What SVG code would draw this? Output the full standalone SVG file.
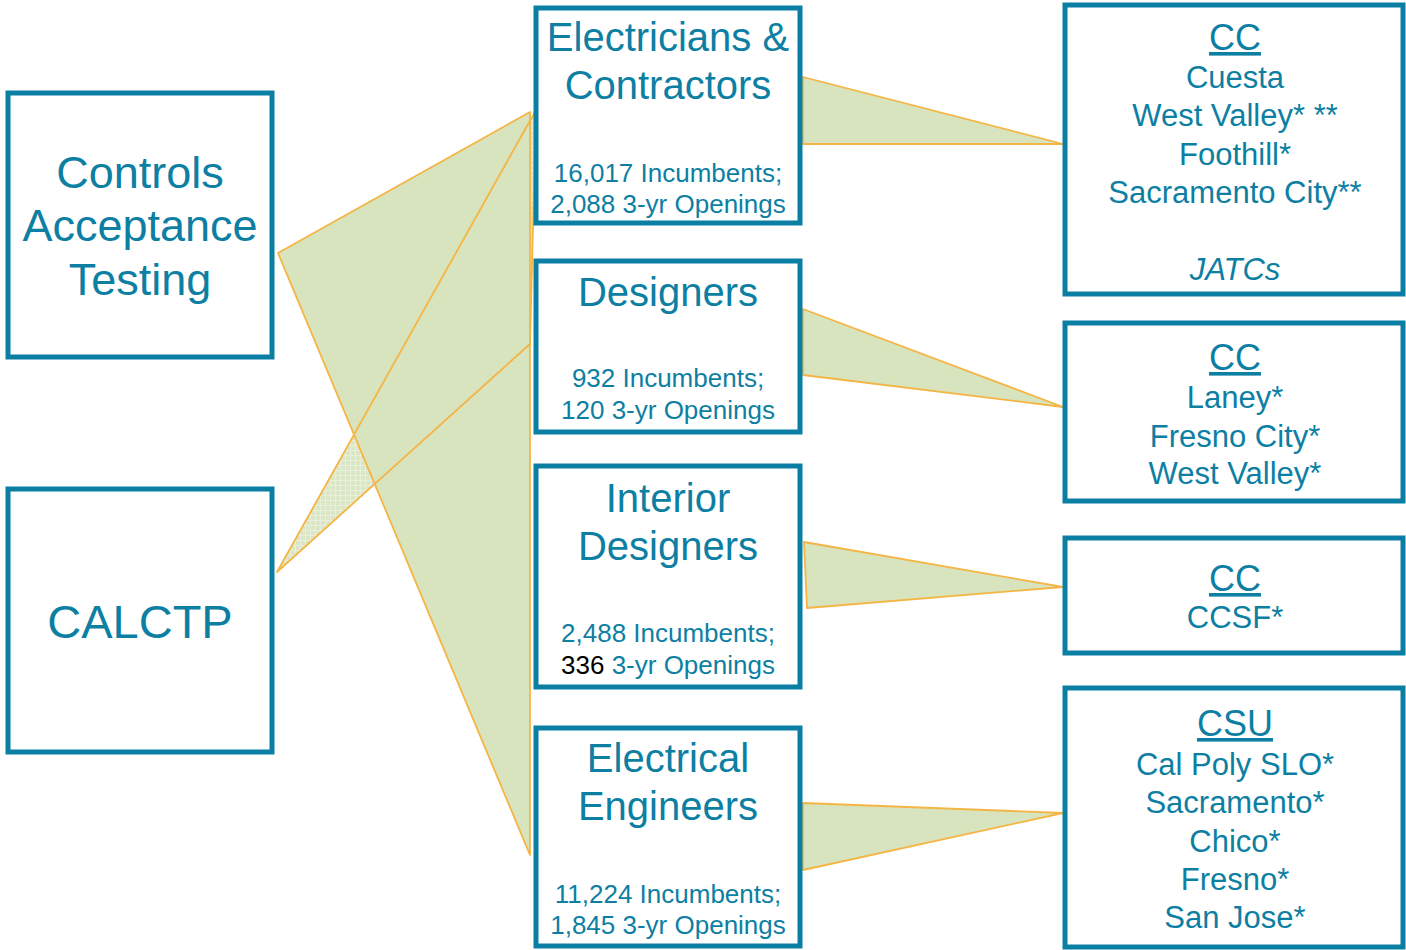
<svg xmlns="http://www.w3.org/2000/svg" width="1406" height="950" viewBox="0 0 1406 950">
<style>
.box{fill:#ffffff;stroke:#0b7fa3;stroke-width:5;}
.wedge{fill:#d7e4bd;stroke:#f5b545;stroke-width:1.8;stroke-linejoin:round;}
.edge{fill:none;stroke:#f5b545;stroke-width:1.8;stroke-linejoin:round;}
text{font-family:"Liberation Sans",Arial,sans-serif;fill:#0d7fa3;text-anchor:middle;}
.big{font-size:45px;}
.t40{font-size:40px;}
.t26{font-size:26px;}
.hd{font-size:36px;text-decoration:underline;}
.t31{font-size:31px;}
</style>
<defs>
<pattern id="hatch" width="5" height="5" patternUnits="userSpaceOnUse">
<rect width="5" height="5" fill="#dbe6c5"/>
<path d="M0 0.5H5M0.5 0V5" stroke="#e8efdb" stroke-width="1"/>
</pattern>
</defs>
<g id="connectors">
<polygon points="277,572 536,110 530,344" fill="url(#hatch)" stroke="none"/>
<polygon class="wedge" points="278,253 530,112 530,855"/>
<polygon class="edge" points="277,572 536,110 530,344"/>
<polygon class="wedge" points="803,77 1063,144 803,144"/>
<polygon class="wedge" points="803,309 1063,407 803,375"/>
<polygon class="wedge" points="804,542 1063,587 807,608"/>
<polygon class="wedge" points="803,803 1063,813 803,870"/>
</g>
<g id="controls-acceptance-testing">
<rect class="box" x="8" y="93" width="264" height="264"/>
<text class="big" x="140" y="188">Controls</text>
<text class="big" x="140" y="241">Acceptance</text>
<text class="big" x="140" y="295">Testing</text>
</g>
<g id="calctp">
<rect class="box" x="8" y="489" width="264" height="263"/>
<text x="140" y="638" style="font-size:47px">CALCTP</text>
</g>
<g id="electricians-contractors">
<rect class="box" x="536" y="8" width="264" height="215"/>
<text class="t40" x="668" y="51">Electricians &amp;</text>
<text class="t40" x="668" y="99">Contractors</text>
<text class="t26" x="668" y="182">16,017 Incumbents;</text>
<text class="t26" x="668" y="213">2,088 3-yr Openings</text>
</g>
<g id="designers">
<rect class="box" x="536" y="261" width="264" height="171"/>
<text class="t40" x="668" y="306">Designers</text>
<text class="t26" x="668" y="387">932 Incumbents;</text>
<text class="t26" x="668" y="419">120 3-yr Openings</text>
</g>
<g id="interior-designers">
<rect class="box" x="536" y="466" width="264" height="221"/>
<text class="t40" x="668" y="512">Interior</text>
<text class="t40" x="668" y="560">Designers</text>
<text class="t26" x="668" y="642">2,488 Incumbents;</text>
<text class="t26" x="668" y="674"><tspan style="fill:#000000">336</tspan> 3-yr Openings</text>
</g>
<g id="electrical-engineers">
<rect class="box" x="536" y="728" width="264" height="218"/>
<text class="t40" x="668" y="772">Electrical</text>
<text class="t40" x="668" y="820">Engineers</text>
<text class="t26" x="668" y="903">11,224 Incumbents;</text>
<text class="t26" x="668" y="934">1,845 3-yr Openings</text>
</g>
<g id="cc-1">
<rect class="box" x="1065" y="5" width="338" height="289"/>
<text class="hd" x="1235" y="50">CC</text>
<text class="t31" x="1235" y="88">Cuesta</text>
<text class="t31" x="1235" y="126">West Valley* **</text>
<text class="t31" x="1235" y="165">Foothill*</text>
<text class="t31" x="1235" y="203">Sacramento City**</text>
<text class="t31" x="1235" y="280" font-style="italic">JATCs</text>
</g>
<g id="cc-2">
<rect class="box" x="1065" y="323" width="338" height="178"/>
<text class="hd" x="1235" y="370">CC</text>
<text class="t31" x="1235" y="408">Laney*</text>
<text class="t31" x="1235" y="447">Fresno City*</text>
<text class="t31" x="1235" y="484">West Valley*</text>
</g>
<g id="cc-3">
<rect class="box" x="1065" y="538" width="338" height="115"/>
<text class="hd" x="1235" y="591">CC</text>
<text class="t31" x="1235" y="628">CCSF*</text>
</g>
<g id="csu">
<rect class="box" x="1065" y="688" width="338" height="259"/>
<text class="hd" x="1235" y="736">CSU</text>
<text class="t31" x="1235" y="775">Cal Poly SLO*</text>
<text class="t31" x="1235" y="813">Sacramento*</text>
<text class="t31" x="1235" y="852">Chico*</text>
<text class="t31" x="1235" y="890">Fresno*</text>
<text class="t31" x="1235" y="928">San Jose*</text>
</g>
</svg>
